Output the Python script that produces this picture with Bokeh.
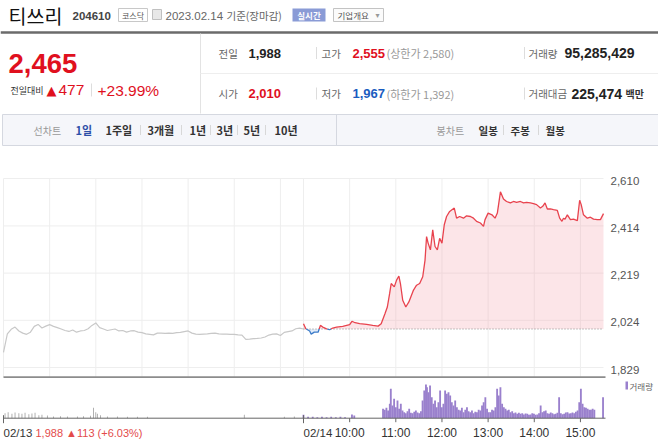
import numpy as np
from bokeh.plotting import figure
from bokeh.layouts import column
from bokeh.models import Range1d
from bokeh.core.properties import value
from bokeh.embed import file_html
from bokeh.resources import INLINE

# ---------------------------------------------------------------- data
stock_name = "티쓰리"
stock_code = "204610"
market = "코스닥"
as_of_date = "2023.02.14"
as_of_note = "기준(장마감)"
last_price = 2465
change_abs = 477
change_pct = "+23.99%"
prev_close = 1988
open_price = 2010
high_price = 2555
low_price = 1967
upper_limit = 2580
lower_limit = 1392
volume_total = 95285429
value_total_mil = 225474

prev_day_label = "02/13"
prev_day_text = "1,988 ▲113 (+6.03%)"
day_label = "02/14"

line_tabs = ["1일", "1주일", "3개월", "1년", "3년", "5년", "10년"]
candle_tabs = ["일봉", "주봉", "월봉"]

# 02/13 intraday price, minutes after 09:00
day1_minutes = list(range(0, 391, 5))
day1_price = [1892, 1968, 1987, 1996, 1980, 1971, 1966, 1975, 1999, 2007,
              1992, 2000, 2006, 1999, 1994, 1988, 1982, 1978, 1984, 1975,
              1980, 1982, 1989, 2003, 2013, 1994, 1988, 1982, 1985, 1988,
              1980, 1982, 1975, 1980, 1981, 1975, 1973, 1968, 1966, 1964,
              1971, 1971, 1970, 1971, 1970, 1973, 1974, 1977, 1980, 1971,
              1967, 1966, 1967, 1968, 1970, 1971, 1968, 1967, 1967, 1966,
              1966, 1964, 1963, 1945, 1946, 1948, 1949, 1951, 1955, 1963,
              1967, 1968, 1961, 1974, 1977, 1980, 1989, 1992, 1988]

# 02/14 intraday price, minutes after 09:00
day2_minutes = [0, 3, 8, 10, 14, 19, 22, 25, 30, 34,
                38, 43, 51, 60, 63, 67, 73, 82, 90, 97,
                101, 106, 109, 112, 114, 118, 121, 124, 126, 129,
                133, 137, 143, 147, 151, 155, 158, 160, 162, 165,
                168, 171, 174, 177, 180, 183, 186, 190, 196, 199,
                203, 208, 212, 217, 221, 225, 230, 234, 236, 240,
                245, 249, 252, 256, 260, 264, 269, 273, 277, 282,
                286, 290, 295, 299, 303, 308, 311, 314, 317, 321,
                325, 330, 333, 336, 338, 340, 343, 347, 351, 356,
                359, 361, 364, 369, 373, 377, 382, 386, 390]
day2_price = [2010, 1989, 1980, 1967, 1975, 1975, 2003, 1996, 1989, 1985,
              1992, 1996, 1999, 2006, 2020, 2014, 2010, 2007, 2003, 2000,
              2010, 2052, 2079, 2135, 2176, 2162, 2190, 2207, 2176, 2107,
              2079, 2100, 2149, 2169, 2176, 2204, 2273, 2370, 2343, 2315,
              2398, 2329, 2315, 2363, 2343, 2419, 2453, 2474, 2488, 2446,
              2453, 2446, 2456, 2453, 2446, 2433, 2426, 2412, 2440, 2467,
              2460, 2446, 2467, 2555, 2525, 2515, 2509, 2515, 2511, 2515,
              2509, 2511, 2509, 2506, 2502, 2488, 2495, 2509, 2484, 2484,
              2481, 2478, 2446, 2433, 2446, 2442, 2460, 2440, 2442, 2436,
              2520, 2502, 2460, 2446, 2450, 2442, 2440, 2440, 2465]

# volume (thousand shares)
vol1_minutes = [2, 6, 11, 15, 20, 24, 28, 33, 37, 41,
                46, 50, 57, 65, 74, 83, 96, 104, 113, 117,
                120, 122, 126, 135, 148, 161, 174, 187, 313, 365, 378]
vol1_k = [240, 288, 208, 272, 240, 208, 256, 192, 224, 256,
          144, 160, 128, 80, 96, 80, 80, 96, 112, 496,
          288, 208, 144, 80, 80, 64, 64, 64, 160, 64, 80]

vol2_minutes = [0, 6, 12, 18, 24, 30, 36, 42, 48, 54, 63, 66,
                103.4, 105.6, 107.8, 110, 112.2, 113.5, 115.6, 117.8, 120, 122.2,
                124.3, 126.5, 128.7, 130.9, 133, 135.2, 137.4, 139.6, 141.8, 144,
                146.1, 148.3, 150.5, 152.7, 154.8, 157, 159.2, 160.5, 162.3, 164.5,
                166.7, 168.9, 171, 173.2, 175.4, 177.6, 179.8, 181.9, 184.1, 186.3,
                188.5, 190.7, 192.8, 195, 197.2, 199.4, 201.6, 203.7, 205.9, 208.1,
                210.3, 212.5, 214.6, 216.8, 219, 221.2, 223.3, 225.5, 227.7, 229.9,
                232.1, 234.2, 236.4, 238.6, 240.8, 243, 245.1, 247.3, 249.5, 251.7,
                253.8, 256, 258.2, 260.4, 262.6, 264.7, 266.9, 269.1, 271.3, 273.5,
                275.6, 277.8, 280, 282.2, 284.4, 286.5, 288.7, 290.9, 293.1, 295.3,
                297.4, 299.6, 301.8, 304, 306.2, 308.3, 310.5, 312.7, 314.9, 317,
                319.2, 321.4, 323.6, 325.8, 327.9, 330.1, 332.3, 334.5, 336.7, 338.8,
                341, 343.2, 345.4, 347.6, 349.7, 351.9, 354.1, 356.3, 358.5, 360.6,
                362.8, 365, 367.2, 369.4, 371.5, 373.7, 375.9, 378.1, 389.4]
vol2_k = [160, 64, 64, 48, 64, 48, 64, 48, 64, 48, 176, 128,
          448, 400, 496, 368, 688, 1408, 608, 928, 528, 848,
          448, 688, 368, 288, 240, 336, 448, 256, 240, 304,
          368, 272, 240, 336, 848, 1328, 1616, 1488, 1248, 1568,
          1008, 688, 848, 528, 768, 1328, 528, 688, 1328, 1168,
          1248, 1088, 768, 608, 848, 528, 400, 368, 496, 288,
          400, 528, 336, 288, 368, 240, 304, 288, 400, 368,
          608, 768, 1008, 448, 288, 288, 400, 368, 528, 1408,
          1088, 1488, 688, 528, 448, 368, 400, 288, 336, 240,
          272, 208, 256, 208, 240, 176, 224, 208, 160, 176,
          240, 208, 160, 176, 240, 608, 288, 336, 368, 240,
          208, 272, 240, 192, 208, 256, 1008, 240, 192, 208,
          272, 288, 224, 240, 272, 240, 304, 368, 768, 1408,
          688, 528, 496, 448, 400, 400, 448, 400, 1008]

price_tick_labels = ["1,829", "2,024", "2,219", "2,414", "2,610"]
hour_labels = ["10:00", "11:00", "12:00", "13:00", "14:00", "15:00"]

# ---------------------------------------------------------------- styling / layout
W = 658
KR = "Noto Sans CJK KR"
LAT = "Liberation Sans"
RED = "#e0101e"
BLUE = "#1a5cc0"
PURPLE = "#9a80cd"
SESSION = 390
FULL = 2 * SESSION

H_HDR, H_PRICE, H_VOL = 155, 223, 70

# horizontal layout of both chart panels (page px)
PLOT_L, PLOT_R = 3, 603
KX = (PLOT_R - PLOT_L) / FULL          # px per minute
x_range = Range1d(-PLOT_L / KX, FULL + (W - PLOT_R) / KX)


def px_to_min(px):
    return px / KX


def common(fig):
    fig.min_border_left = fig.min_border_right = 0
    fig.min_border_top = fig.min_border_bottom = 0
    fig.outline_line_color = None
    fig.background_fill_color = "white"
    fig.border_fill_color = "white"


# ---------------------------------------------------------------- header
hdr = figure(width=W, height=H_HDR, x_range=Range1d(0, W), y_range=Range1d(H_HDR, 0),
             x_axis_type=None, y_axis_type=None, toolbar_location=None,
             output_backend="svg")
common(hdr)


def T(x, y, s, size, color, bold=False, font=KR, align="left"):
    hdr.text(x=[x], y=[y], text=[s], text_font=value(font), text_font_size=f"{size}px",
             text_color=color, text_font_style="bold" if bold else "normal",
             text_align=align, text_baseline="middle")


def box(l, r, t, b, fill, line):
    hdr.quad(left=[l], right=[r], top=[t], bottom=[b], fill_color=fill,
             line_color=line, line_width=1)


def seg(x0, y0, x1, y1, color, w=1):
    hdr.segment(x0=[x0], y0=[y0], x1=[x1], y1=[y1], line_color=color, line_width=w)


T(8, 14.5, stock_name, 19.5, "#111")
T(72, 15.5, stock_code, 11.5, "#444", bold=True, font=LAT)
box(118, 147, 8, 21, "white", "#c8c8c8")
T(132.5, 14.5, market, 8, "#555", align="center")
box(152, 161, 9, 19, "#e8e8e8", "#c0c0c0")
T(165, 15, as_of_date, 11.5, "#666", font=LAT)
T(226, 14.5, as_of_note, 10.5, "#666")
box(292, 325, 8, 21, "#8a9bd6", None)
T(308.5, 14.5, "실시간", 8.5, "white", bold=True, align="center")
box(333, 383, 8, 21, "#fbfbfb", "#c3c3c3")
T(337, 14.5, "기업개요", 8.5, "#555")
T(377, 14.5, "▾", 8, "#999", font="DejaVu Sans", align="center")
seg(0, 32, W, 32, "#6b6b6b", 2.5)

# left price block
T(8, 63, f"{last_price:,}", 27.5, RED, bold=True, font=LAT)
T(10, 89.5, "전일대비", 9, "#333")
T(46, 89.5, "▲", 13, RED, font="DejaVu Sans")
T(58, 89.5, f"{change_abs}", 15.5, RED, font=LAT)
seg(91, 83, 91, 96, "#dddddd")
T(97, 89.5, change_pct, 15.5, RED, font=LAT)

# dividers
seg(200, 33, 200, 113, "#e3e3e3")
seg(200, 73, W, 73, "#eeeeee")

# right table
rows = [52.5, 93]
GL = "#666"
T(218, rows[0], "전일", 10.5, GL)
T(248, rows[0], f"{prev_close:,}", 13, "#222", bold=True, font=LAT)
T(218, rows[1], "시가", 10.5, GL)
T(248, rows[1], f"{open_price:,}", 13, RED, bold=True, font=LAT)
for y in rows:
    seg(316, y - 6, 316, y + 6, "#dddddd")
    seg(524, y - 6, 524, y + 6, "#dddddd")
T(321, rows[0], "고가", 10.5, GL)
T(352, rows[0], f"{high_price:,}", 13, RED, bold=True, font=LAT)
T(386, rows[0], f"(상한가 {upper_limit:,})", 11, "#999")
T(321, rows[1], "저가", 10.5, GL)
T(352, rows[1], f"{low_price:,}", 13, BLUE, bold=True, font=LAT)
T(386, rows[1], f"(하한가 {lower_limit:,})", 11, "#999")
T(528, rows[0], "거래량", 10.5, GL)
T(564, rows[0], f"{volume_total:,}", 14, "#222", bold=True, font=LAT)
T(528, rows[1], "거래대금", 10.5, GL)
T(571, rows[1], f"{value_total_mil:,}", 14, "#222", bold=True, font=LAT)
T(625, rows[1], "백만", 10, "#333", bold=True)

# tab bar
box(2, W + 2, 114, 145, "#f5f6fa", "#d5d8e0")
seg(336, 114, 336, 145, "#d5d8e0")
ty = 129.5
T(33, ty, "선차트", 10, "#999")
tab_x = [75, 105, 147, 189, 216, 243, 274]
for i, (x, s) in enumerate(zip(tab_x, line_tabs)):
    T(x, ty, s, 11, "#2d4fa8" if i == 0 else "#333", bold=True)
for x in [140, 181, 210, 237, 265]:
    seg(x, ty - 5, x, ty + 5, "#d8d8d8")
T(436, ty, "봉차트", 10, "#999")
for x, s in zip([478, 510, 545], candle_tabs):
    T(x, ty, s, 10.5, "#333", bold=True)
for x in [503, 538]:
    seg(x, ty - 5, x, ty + 5, "#d8d8d8")

# ---------------------------------------------------------------- price chart
price_ticks = [int(s.replace(",", "")) for s in price_tick_labels]
# vertical layout (page px within this panel): top tick row at 23, bottom tick at 212
TOP_TICK_PX, BOT_TICK_PX = 23, 212
KY = (price_ticks[-1] - price_ticks[0]) / (BOT_TICK_PX - TOP_TICK_PX)   # price per px
y_hi = price_ticks[-1] + TOP_TICK_PX * KY
y_lo = price_ticks[0] - (H_PRICE - BOT_TICK_PX) * KY
y_floor = price_ticks[0] - 9.7 * KY      # dark separator line

p = figure(width=W, height=H_PRICE, x_range=x_range, y_range=Range1d(y_lo, y_hi),
           x_axis_type=None, y_axis_type=None, toolbar_location=None,
           output_backend="svg")
common(p)

GRID = "#eeeeee"
grid_minutes = [h * 60 for h in range(0, 7)] + [SESSION + h * 60 for h in range(0, 7)]
p.segment(x0=grid_minutes, x1=grid_minutes, y0=[y_floor] * len(grid_minutes),
          y1=[price_ticks[-1]] * len(grid_minutes), line_color=GRID, line_width=1)
p.segment(x0=[0] * len(price_ticks), x1=[FULL] * len(price_ticks), y0=price_ticks,
          y1=price_ticks, line_color=GRID, line_width=1)
p.text(x=[FULL + px_to_min(7)] * len(price_ticks), y=[t - 2 * KY for t in price_ticks],
       text=price_tick_labels, text_font=value(LAT), text_font_size="11.5px",
       text_color="#555", text_align="left", text_baseline="middle")

# previous day line (grey)
p.line(day1_minutes, day1_price, line_color="#c8c8c8", line_width=1.2)

# current day: split at previous close
x2 = [m + SESSION for m in day2_minutes]
pieces = []
cx, cy = [x2[0]], [day2_price[0]]
above = day2_price[0] >= prev_close
for i in range(1, len(x2)):
    xa, ya, xb, yb = x2[i - 1], day2_price[i - 1], x2[i], day2_price[i]
    now_above = yb >= prev_close
    if now_above != above:
        xc = xa + (prev_close - ya) * (xb - xa) / (yb - ya)
        cx.append(xc)
        cy.append(prev_close)
        pieces.append((cx, cy, above))
        cx, cy = [xc], [prev_close]
        above = now_above
    cx.append(xb)
    cy.append(yb)
pieces.append((cx, cy, above))

all_x, all_y = [], []
for k, (px_, py_, _) in enumerate(pieces):
    all_x += px_ if k == 0 else px_[1:]
    all_y += py_ if k == 0 else py_[1:]
all_x = np.array(all_x)
all_y = np.array(all_y, dtype=float)

p.varea(x=all_x, y1=np.full_like(all_y, prev_close), y2=np.maximum(all_y, prev_close),
        fill_color="#f5a0aa", fill_alpha=0.27)
p.varea(x=all_x, y1=np.minimum(all_y, prev_close), y2=np.full_like(all_y, prev_close),
        fill_color="#a0c0ea", fill_alpha=0.3)
p.segment(x0=[x2[0]], x1=[x2[-1]], y0=[prev_close], y1=[prev_close],
          line_color="#8c8c8c", line_width=1, line_dash="1 2")
red_xs = [pc[0] for pc in pieces if pc[2]]
red_ys = [pc[1] for pc in pieces if pc[2]]
blue_xs = [pc[0] for pc in pieces if not pc[2]]
blue_ys = [pc[1] for pc in pieces if not pc[2]]
p.multi_line(red_xs, red_ys, line_color="#e8434e", line_width=1.3)
p.multi_line(blue_xs, blue_ys, line_color="#3d7cc9", line_width=1.3)

p.segment(x0=[0], x1=[FULL + px_to_min(2)], y0=[y_floor], y1=[y_floor],
          line_color="#8c8c8c", line_width=2)

# ---------------------------------------------------------------- volume chart
VOL_TOP = 1810             # volume value at the panel's plot top
TOP_PX, BASE_PX = 2, 39.7  # page px inside this panel
KV = VOL_TOP / (BASE_PX - TOP_PX)       # volume per px
v = figure(width=W, height=H_VOL, x_range=x_range,
           y_range=Range1d(-(H_VOL - BASE_PX) * KV, VOL_TOP + TOP_PX * KV),
           x_axis_type=None, y_axis_type=None, toolbar_location=None,
           output_backend="svg")
common(v)

v.vbar(x=vol1_minutes, top=vol1_k, width=1.0, fill_color="#999999", line_color=None)
v.vbar(x=[m + SESSION for m in vol2_minutes], top=vol2_k, width=2.4,
       fill_color=PURPLE, line_color=None)

# time axis
AX = "#666"
hour_ticks = [SESSION + 60 * (i + 1) for i in range(len(hour_labels))]
v.segment(x0=[0], x1=[FULL + px_to_min(2)], y0=[0], y1=[0], line_color=AX, line_width=1)
v.segment(x0=hour_ticks, x1=hour_ticks, y0=[0] * len(hour_ticks),
          y1=[-4 * KV] * len(hour_ticks), line_color=AX, line_width=1)
v.segment(x0=[0, SESSION], x1=[0, SESSION], y0=[3 * KV] * 2, y1=[-5 * KV] * 2,
          line_color=AX, line_width=1)
LBL_Y = -14.3 * KV
v.text(x=hour_ticks, y=[LBL_Y] * len(hour_ticks), text=hour_labels,
       text_font=value(LAT), text_font_size="12px", text_color="#333",
       text_align="center", text_baseline="middle")
v.text(x=[0, SESSION], y=[LBL_Y] * 2, text=[prev_day_label, day_label],
       text_font=value(LAT), text_font_size="11.5px", text_color="#333",
       text_align="left", text_baseline="middle")
v.text(x=[px_to_min(32)], y=[LBL_Y], text=[prev_day_text],
       text_font=value(LAT), text_font_size="11px", text_color="#e34b4b",
       text_align="left", text_baseline="middle")

# legend
leg_y = (BASE_PX - 7) * KV
v.quad(left=[FULL + px_to_min(22)], right=[FULL + px_to_min(24.5)],
       bottom=[leg_y - 4 * KV], top=[leg_y + 4 * KV], fill_color=PURPLE, line_color=None)
v.text(x=[FULL + px_to_min(26)], y=[leg_y], text=["거래량"], text_font=value(KR),
       text_font_size="8.5px", text_color="#666", text_align="left", text_baseline="middle")

layout = column(hdr, p, v)
open("out.html", "w").write(file_html(layout, INLINE))
